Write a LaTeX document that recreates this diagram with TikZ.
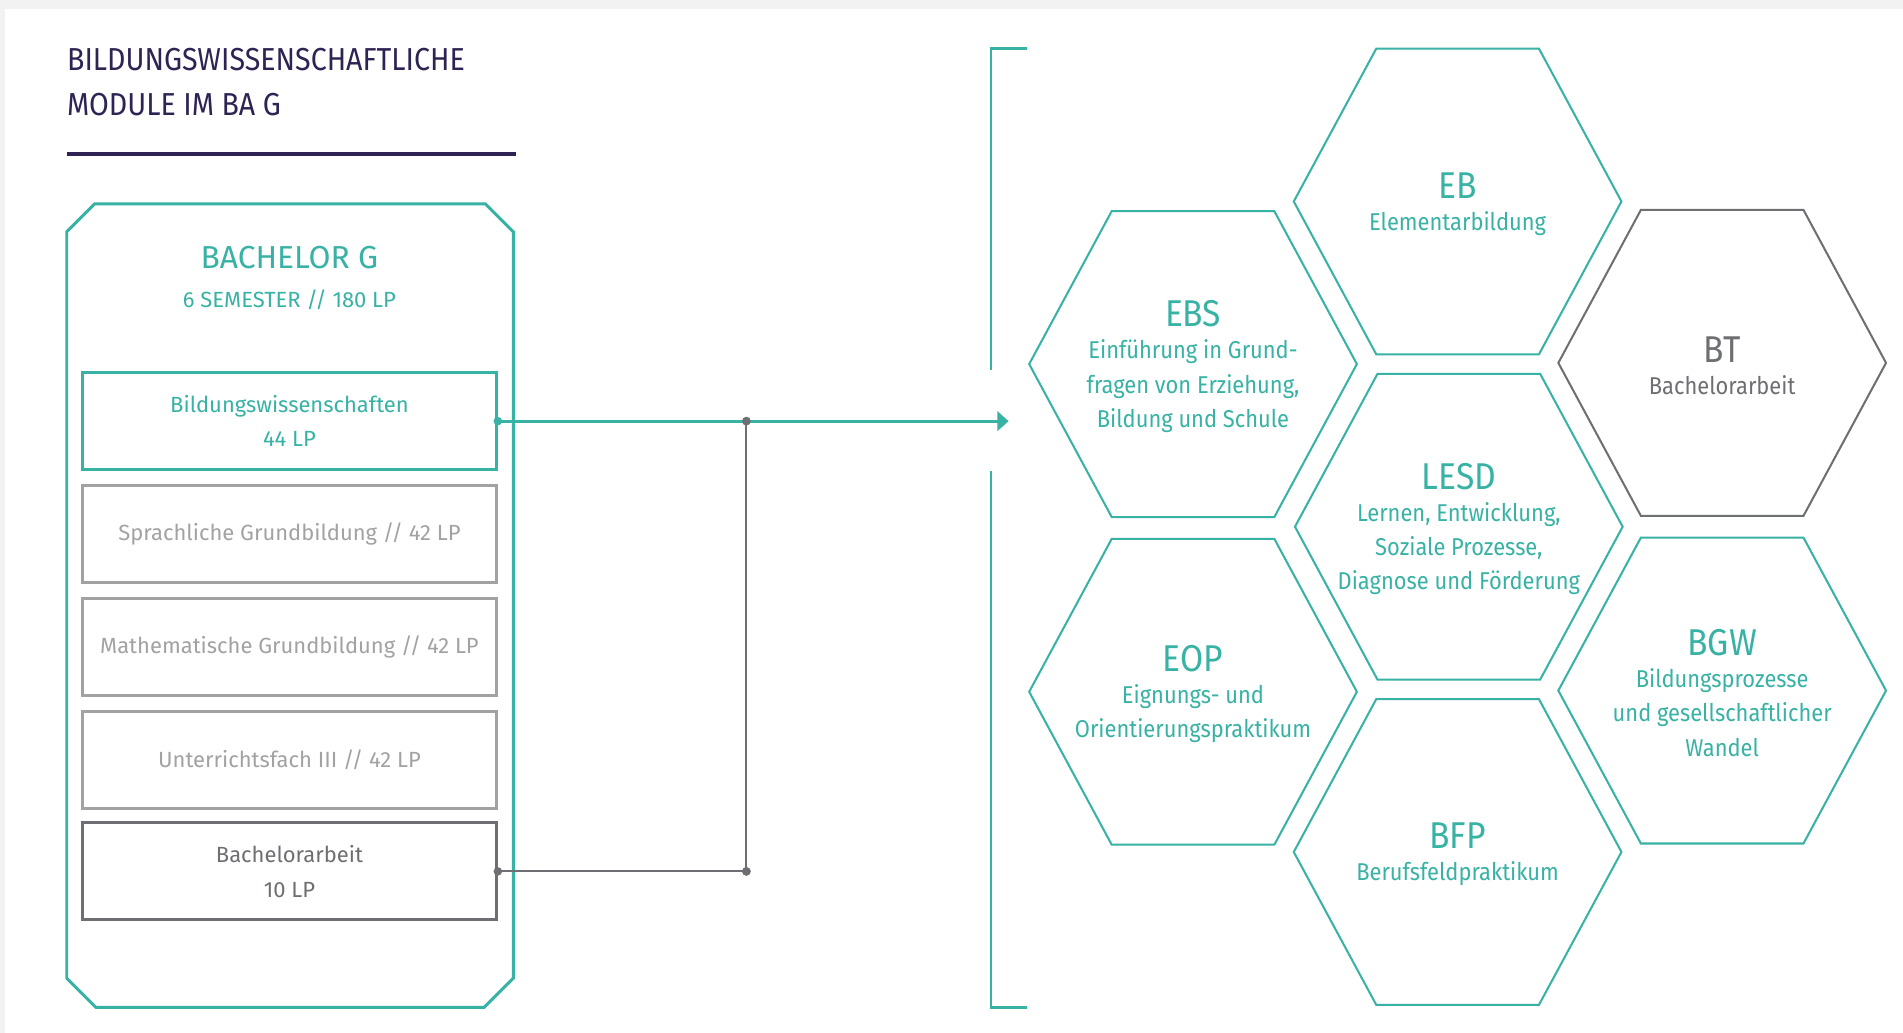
\documentclass[tikz,border=0pt]{standalone}
\usepackage{fontspec}
\setmainfont{Fira Sans}
\newfontfamily\condfont[FakeStretch=0.9]{Fira Sans}
\usepackage[HTML]{xcolor}
\usetikzlibrary{positioning, arrows.meta}

\definecolor{tealc}{HTML}{38B2A4}
\definecolor{titlepurple}{HTML}{2E2352}
\definecolor{lightgrey}{HTML}{A2A2A5}
\definecolor{darkgrey}{HTML}{6E6F73}
\definecolor{pagegrey}{HTML}{F2F2F2}

\newcommand{\hexhead}[1]{{\fontsize{17.5}{19}\selectfont #1}}

\begin{document}
\begin{tikzpicture}[x=0.02cm, y=-0.02cm,
  modbox/.style={draw, rectangle, line width=1.4pt, minimum width=6.82cm, minimum height=1.6cm, inner sep=0pt, align=center, font=\fontsize{10.3}{16.2}\selectfont},
  hexcell/.style={line width=0.95pt},
  hextext/.style={align=center, text=tealc, font=\condfont\fontsize{11.4}{16}\selectfont},
  dot/.style={fill, circle, inner sep=0pt, minimum size=4pt}]

\useasboundingbox (0,0) rectangle (1568,851);
\fill[pagegrey] (0,0) rectangle (1568,851);
\fill[white] (4,7.4) rectangle (1568,851);

% --- TITLE ---
\node[anchor=base west, align=left, inner sep=0pt, text=titlepurple, font=\condfont\fontsize{14.9}{21}\selectfont] (title) at (55,95) {BILDUNGSWISSENSCHAFTLICHE\\MODULE IM BA G};
\draw[titlepurple, line width=1.9pt] (55,127) -- (425,127);

% --- LEFT SIDE: BACHELOR G ---
\draw[tealc, line width=1.4pt] (78,168) -- (400,168) -- (423,191) -- (423,806) -- (399,830) -- (79,830) -- (55,806) -- (55,191) -- cycle;
\node[anchor=base, inner sep=0pt, text=tealc, font=\fontsize{14.9}{17}\selectfont] (bag) at (238.5,221.5) {BACHELOR G};
\node[anchor=base, inner sep=0pt, text=tealc, font=\fontsize{10.3}{12}\selectfont] (sem) at (238.5,253) {6 SEMESTER // 180 LP};

\node[modbox, draw=tealc, text=tealc] (bw) at (238.5,347) {Bildungswissenschaften\\44 LP};
\node[modbox, draw=lightgrey, text=lightgrey] (sg) at (238.5,440) {Sprachliche Grundbildung // 42 LP};
\node[modbox, draw=lightgrey, text=lightgrey] (mg) at (238.5,533) {Mathematische Grundbildung // 42 LP};
\node[modbox, draw=lightgrey, text=lightgrey] (uf) at (238.5,626) {Unterrichtsfach III // 42 LP};
\node[modbox, draw=darkgrey, text=darkgrey] (ba) at (238.5,718) {Bachelorarbeit\\10 LP};

% --- CONNECTORS ---
\coordinate (tip) at (831,347);
\node[dot, darkgrey] (j1) at (615,347) {};
\node[dot, darkgrey] (j2) at (615,718) {};
\draw[tealc, line width=1.3pt, -{Triangle[length=5.2pt, width=9pt]}] (bw.east) -- (tip);
\draw[darkgrey, line width=1pt] (ba.east) -- (j2.center) -- (j1.center);
\node[dot, darkgrey] at (j1) {};
\node[dot, darkgrey] at (j2) {};
\node[dot, tealc] at (bw.east) {};
\node[dot, darkgrey] at (ba.east) {};

% --- BRACKET ---
\draw[tealc, line width=1.3pt] (846,40) -- (816.5,40) -- (816.5,305);
\draw[tealc, line width=1.3pt] (816.5,388) -- (816.5,830) -- (846,830);

% --- RIGHT SIDE: MODULE HEXAGONS ---
\foreach \cx/\cy/\col in {983/300/tealc, 1201/166/tealc, 1419/299/darkgrey, 1202/434/tealc, 983/570/tealc, 1419/569/tealc, 1201/702/tealc}
  \draw[hexcell, \col] (\cx,\cy) ++(-135,0) -- ++(68,-126) -- ++(134,0) -- ++(68,126) -- ++(-68,126) -- ++(-134,0) -- cycle;

\node[hextext] (ebs) at (983,302) {\hexhead{EBS}\\[-1pt]Einführung in Grund-\\fragen von Erziehung,\\Bildung und Schule};
\node[hextext] (eb) at (1201,168) {\hexhead{EB}\\[-1pt]Elementarbildung};
\node[hextext, text=darkgrey] (bt) at (1419,301) {\hexhead{BT}\\[-1pt]Bachelorarbeit};
\node[hextext] (lesd) at (1202,436) {\hexhead{LESD}\\[-1pt]Lernen, Entwicklung,\\Soziale Prozesse,\\Diagnose und Förderung};
\node[hextext] (eop) at (983,572) {\hexhead{EOP}\\[-1pt]Eignungs- und\\Orientierungspraktikum};
\node[hextext] (bgw) at (1419,571) {\hexhead{BGW}\\[-1pt]Bildungsprozesse\\und gesellschaftlicher\\Wandel};
\node[hextext] (bfp) at (1201,704) {\hexhead{BFP}\\[-1pt]Berufsfeldpraktikum};
\end{tikzpicture}
\end{document}
